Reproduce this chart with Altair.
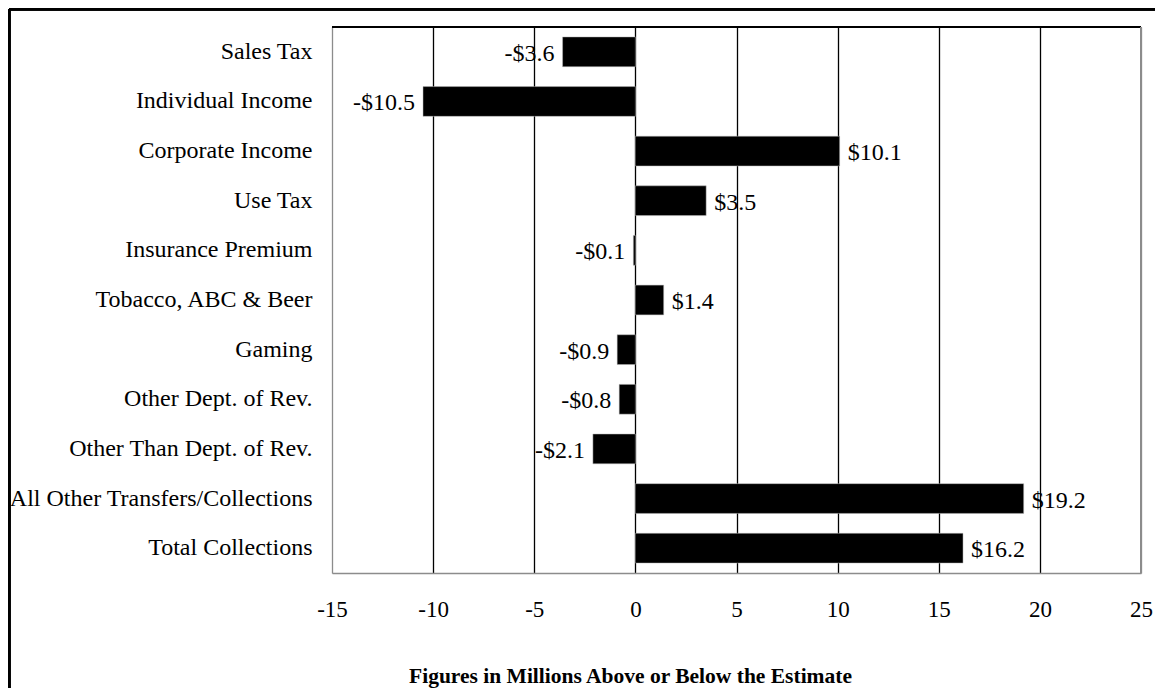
import altair as alt
import pandas as pd

categories = [
    "Sales Tax", "Individual Income", "Corporate Income", "Use Tax",
    "Insurance Premium", "Tobacco, ABC & Beer", "Gaming",
    "Other Dept. of Rev.", "Other Than Dept. of Rev.",
    "All Other Transfers/Collections", "Total Collections",
]
values = [-3.6, -10.5, 10.1, 3.5, -0.1, 1.4, -0.9, -0.8, -2.1, 19.2, 16.2]
x_ticks = [-15, -10, -5, 0, 5, 10, 15, 20, 25]
x_title = "Figures in Millions Above or Below the Estimate"

df = pd.DataFrame({"cat": categories, "val": values})
df["label"] = [("-$%.1f" % abs(v)) if v < 0 else ("$%.1f" % v) for v in values]

W, H = 809, 546
FONT = "Liberation Serif"

x_scale = alt.Scale(domain=[-15, 25], nice=False, zero=False)
y_scale = alt.Scale(paddingInner=0.4, paddingOuter=0.2)

base = alt.Chart(df)

bars = base.mark_bar(color="black", stroke="#bbbbbb", strokeWidth=0.5).encode(
    x=alt.X("val:Q", scale=x_scale,
            axis=alt.Axis(values=x_ticks, title=x_title, grid=True,
                          gridColor={"condition": {"test": "datum.value == -15 || datum.value == 25", "value": "#8c8c8c"}, "value": "black"},
                          gridWidth=1.3, ticks=False, tickSize=0, domainColor="#8c8c8c", domainWidth=1.5,
                          labelExpr="'' + datum.value",
                          labelFont=FONT, labelFontSize=23, labelColor="black",
                          labelBaseline="middle", labelPadding=36, labelFlush=False,
                          titleFont=FONT, titleFontSize=21.5, titleFontWeight="bold", titleColor="black",
                          titleX=298, titleY=103, titleAlign="center", titleBaseline="middle")),
    y=alt.Y("cat:N", sort=None, scale=y_scale,
            axis=alt.Axis(title=None, ticks=False, tickSize=0, domain=False, grid=False,
                          labelFont=FONT, labelFontSize=24, labelColor="black",
                          labelPadding=20, labelLimit=400)),
)

pos_labels = base.transform_filter("datum.val >= 0").mark_text(
    align="left", baseline="middle", dx=8, dy=2, font=FONT, fontSize=24, color="black"
).encode(x=alt.X("val:Q", scale=x_scale), y=alt.Y("cat:N", sort=None, scale=y_scale), text="label:N")

neg_labels = base.transform_filter("datum.val < 0").mark_text(
    align="right", baseline="middle", dx=-8, dy=2, font=FONT, fontSize=24, color="black"
).encode(x=alt.X("val:Q", scale=x_scale), y=alt.Y("cat:N", sort=None, scale=y_scale), text="label:N")

top_border = base.mark_rule(color="black", strokeWidth=1.5).encode(
    x=alt.value(0), x2=alt.value(W), y=alt.value(0)
)
right_border = base.mark_rule(color="#8c8c8c", strokeWidth=1.5).encode(
    x=alt.value(W), y=alt.value(0), y2=alt.value(H)
)
frame_top = base.mark_rule(color="black", strokeWidth=2.5).encode(
    x=alt.value(-323), x2=alt.value(W + 14), y=alt.value(-18)
)
frame_left = base.mark_rule(color="black", strokeWidth=2.5).encode(
    x=alt.value(-323), y=alt.value(-18), y2=alt.value(H + 115)
)

chart = alt.layer(bars, pos_labels, neg_labels, top_border, right_border, frame_top, frame_left).properties(
    width=W, height=H,
    autosize=alt.AutoSizeParams(type="none"),
    padding={"left": 324, "top": 19, "right": 14, "bottom": 115},
).configure_view(stroke=None).configure(background="white")

chart.save("out.html", embed_options={"renderer": "svg", "actions": False})
